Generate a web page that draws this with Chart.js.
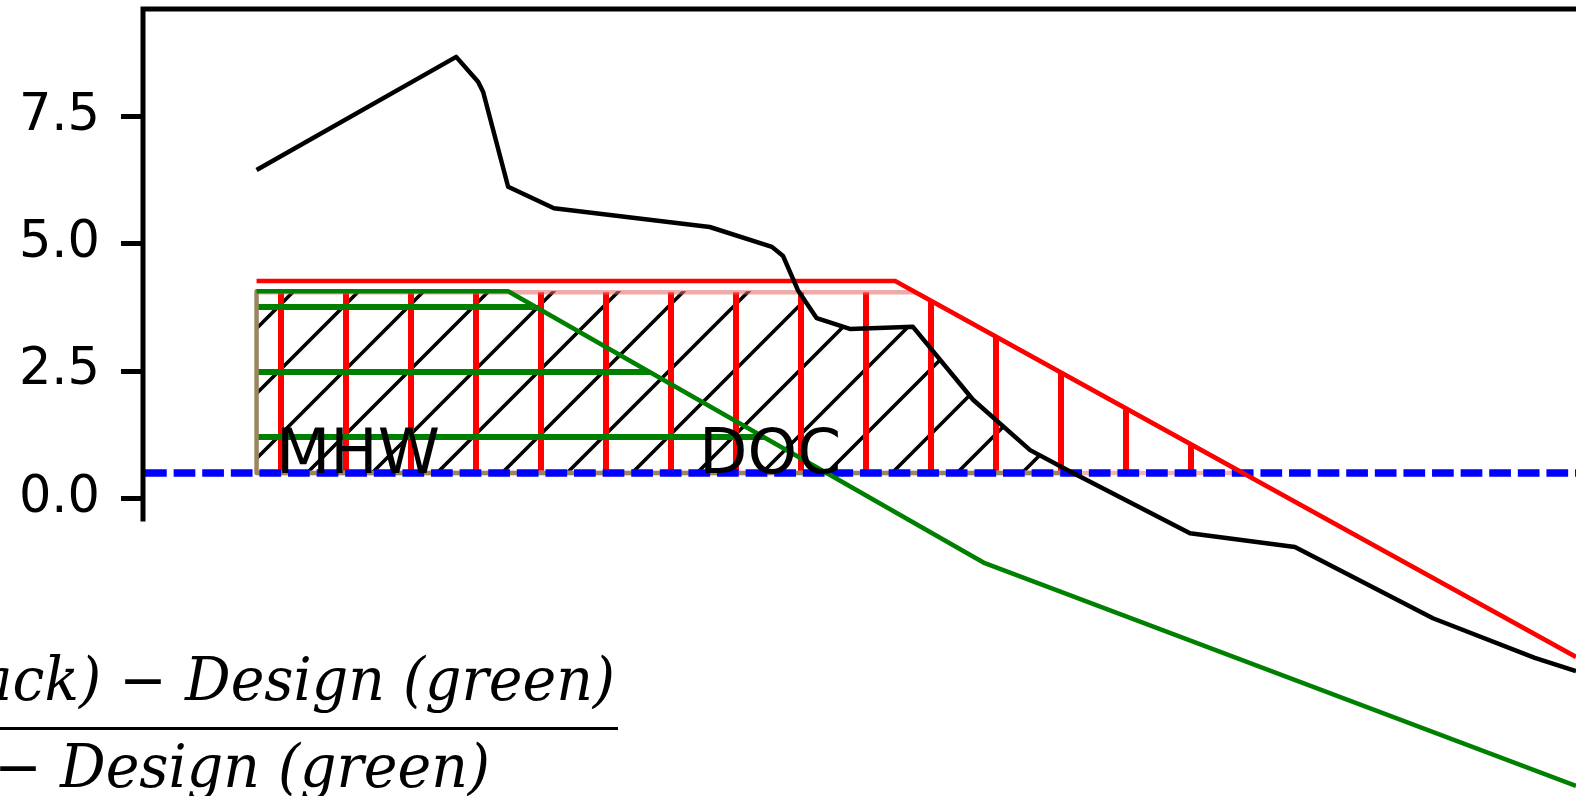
<!DOCTYPE html>
<html>
<head>
<meta charset="utf-8">
<script src="https://cdn.jsdelivr.net/npm/chart.js@4.4.1/dist/chart.umd.min.js"></script>
<style>
  html, body { margin: 0; padding: 0; background: #fff; overflow: hidden; }
  #wrap { position: absolute; left: 0; top: 0; width: 1576px; height: 796px; }
</style>
</head>
<body>
<div id="wrap"><canvas id="profileChart"></canvas></div>
<script>
// measured profile (black)
const profileX = [2.23, 6.15, 6.58, 6.68, 7.17, 8.07, 11.13, 12.35, 12.57, 12.86, 13.23, 13.88, 15.12, 16.30, 17.42, 18.15, 20.56, 22.62, 25.33, 27.33, 28.14];
const profileY = [6.45, 8.67, 8.18, 7.98, 6.12, 5.70, 5.33, 4.94, 4.76, 4.09, 3.54, 3.33, 3.37, 1.94, 0.95, 0.56, -0.68, -0.95, -2.35, -3.13, -3.39];

// design profile (green)
const designX = [2.23, 7.17, 16.53, 28.14];
const designY = [4.07, 4.07, -1.27, -5.64];

// envelope (red)
const envelopeX = [2.23, 14.77, 28.14];
const envelopeY = [4.27, 4.27, -3.11];

// MHW level (blue dashed)
const mhwLevel = 0.5;
const mhwX = [0.04, 28.14];

// hatched zones (upper edges, filled down to MHW)
const envZoneX = [2.23, 15.17, 21.60];
const envZoneY = [4.05, 4.05, 0.5];
const envBaseX = [2.23, 21.60];
const fillZoneX = [2.23, 12.87, 13.23, 13.88, 15.12, 16.30, 17.42, 18.27];
const fillZoneY = [4.07, 4.07, 3.54, 3.33, 3.37, 1.94, 0.95, 0.5];
const designZoneX = [2.23, 7.17, 13.40];
const designZoneY = [4.07, 4.07, 0.5];
const edgeX = [2.23, 2.23, 18.27];
const edgeY = [4.07, 0.5, 0.5];

const yTicks = [0, 2.5, 5, 7.5];
const yMin = -5.84, yMax = 9.61, spineBottom = -0.45;
const xMin = 0, xMax = 28.14;

const notes = ['MHW', 'DOC'];
const noteX = [2.61, 10.92];
const noteY = [0.5, 0.5];

const numerText = '(black) \u2212 Design (green)';
const denomText = '\u2212 Design (green)';

const pts = (xs, ys) => xs.map((x, i) => ({ x: x, y: ys[i] }));

function makePattern(draw) {
    const c = document.createElement('canvas');
    c.width = 65; c.height = 65;
    const g = c.getContext('2d');
    draw(g);
    return g.createPattern(c, 'repeat');
}

const slashHatch = makePattern(g => {
    g.strokeStyle = '#000';
    g.lineWidth = 3.6;
    g.beginPath();
    g.moveTo(-10, 75); g.lineTo(75, -10);
    g.moveTo(-10, 10); g.lineTo(10, -10);
    g.moveTo(55, 75); g.lineTo(75, 55);
    g.stroke();
});
const vertHatch = makePattern(g => {
    g.fillStyle = '#ff0000';
    g.fillRect(21 - 3, 0, 6, 65);
});
const horizHatch = makePattern(g => {
    g.fillStyle = '#008000';
    g.fillRect(0, 47 - 3, 65, 6);
});

const spines = {
    id: 'spines',
    afterDraw(chart) {
        const ctx = chart.ctx, a = chart.chartArea, y = chart.scales.y;
        ctx.save();
        ctx.strokeStyle = '#000';
        ctx.lineWidth = 5;
        ctx.beginPath();
        ctx.moveTo(a.left, a.top - 2.5);
        ctx.lineTo(a.left, y.getPixelForValue(spineBottom));
        ctx.moveTo(a.left - 2.5, a.top);
        ctx.lineTo(a.right, a.top);
        ctx.stroke();
        ctx.restore();
    }
};

const texts = {
    id: 'texts',
    afterDraw(chart) {
        const ctx = chart.ctx, x = chart.scales.x, y = chart.scales.y;
        ctx.save();
        ctx.fillStyle = '#000';
        ctx.font = '63px "DejaVu Sans"';
        ctx.textBaseline = 'alphabetic';
        ctx.textAlign = 'left';
        notes.forEach((t, i) => ctx.fillText(t, x.getPixelForValue(noteX[i]), y.getPixelForValue(noteY[i])));

        // formula under the plot
        ctx.font = 'italic 59px "DejaVu Serif"';
        ctx.textAlign = 'right';
        const sx = 430 / ctx.measureText('Design (green)').width;
        [[numerText, 615, 700], [denomText, 490, 787]].forEach(([t, rx, by]) => {
            ctx.save();
            ctx.translate(rx, by);
            ctx.scale(sx, 1);
            ctx.fillText(t, 0, 0);
            ctx.restore();
        });
        ctx.fillRect(0, 727, 618, 3);
        ctx.restore();
    }
};

const ctx = document.getElementById('profileChart').getContext('2d');
new Chart(ctx, {
    type: 'line',
    data: {
        datasets: [
            { label: 'Measured', data: pts(profileX, profileY), borderColor: '#000', borderWidth: 4.5, order: 1 },
            { label: 'Envelope', data: pts(envelopeX, envelopeY), borderColor: '#ff0000', borderWidth: 4.5, order: 2 },
            { label: 'Design', data: pts(designX, designY), borderColor: '#008000', borderWidth: 4.5, order: 3 },
            { label: 'MHW', data: pts(mhwX, [mhwLevel, mhwLevel]), borderColor: '#0000ff', borderWidth: 7.5,
              borderDash: [21.7, 6.9], borderCapStyle: 'butt', order: 4 },
            { label: 'edge', data: pts(edgeX, edgeY), borderColor: '#9a8660', borderWidth: 4.5, order: 5 },
            { label: 'envelope base', data: pts(envBaseX, [mhwLevel, mhwLevel]), borderColor: '#f5b4b4', borderWidth: 4.5, order: 6 },
            { label: 'design zone', data: pts(designZoneX, designZoneY), borderWidth: 0, borderColor: 'rgba(0,0,0,0)',
              backgroundColor: horizHatch, fill: { value: mhwLevel }, order: 7 },
            { label: 'envelope zone', data: pts(envZoneX, envZoneY), borderColor: 'rgba(225,100,100,0.55)', borderWidth: 4.5,
              backgroundColor: vertHatch, fill: { value: mhwLevel }, order: 8 },
            { label: 'fill zone', data: pts(fillZoneX, fillZoneY), borderWidth: 0, borderColor: 'rgba(0,0,0,0)',
              backgroundColor: slashHatch, fill: { value: mhwLevel }, order: 9 }
        ]
    },
    options: {
        responsive: true,
        maintainAspectRatio: false,
        animation: false,
        layout: { padding: { top: 9, left: 0, right: 0, bottom: 0 } },
        elements: { point: { radius: 0, hoverRadius: 0 }, line: { tension: 0, borderJoinStyle: 'round' } },
        plugins: { legend: { display: false }, tooltip: { enabled: false } },
        scales: {
            x: { type: 'linear', display: false, min: xMin, max: xMax },
            y: {
                type: 'linear',
                min: yMin,
                max: yMax,
                border: { display: false },
                grid: { drawOnChartArea: false, drawTicks: true, tickLength: 22, lineWidth: 5, tickWidth: 5, tickColor: '#000' },
                ticks: {
                    color: '#000',
                    padding: 21,
                    font: { family: 'DejaVu Sans', size: 51 },
                    callback: v => v.toFixed(1)
                },
                afterBuildTicks: s => { s.ticks = yTicks.map(v => ({ value: v })); },
                afterFit: s => { s.width = 143; s.paddingTop = 0; s.paddingBottom = 0; }
            }
        }
    },
    plugins: [spines, texts]
});
</script>
</body>
</html>
